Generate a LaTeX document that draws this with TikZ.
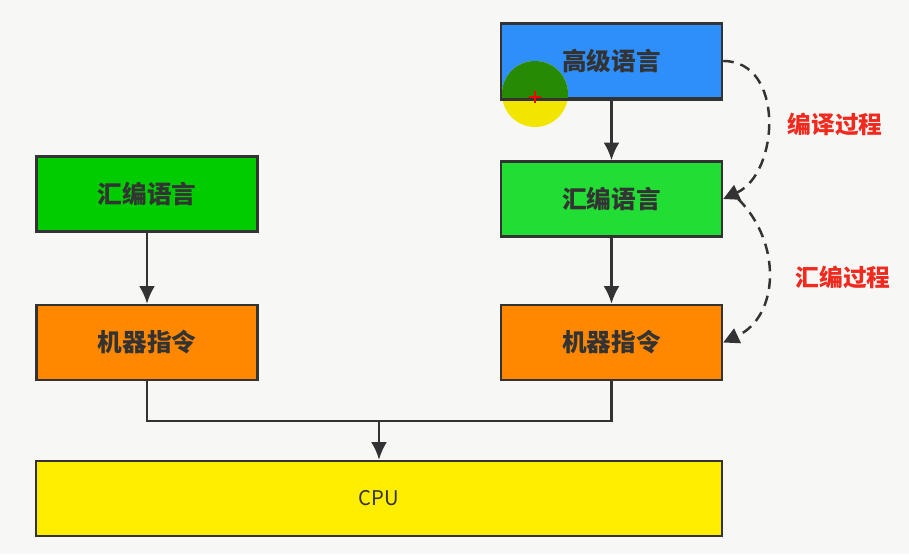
\documentclass[tikz,border=0pt]{standalone}
\usepackage{fontspec}
\newfontfamily\cjk{Noto Sans CJK SC}
\usetikzlibrary{arrows.meta}
\definecolor{bgc}{HTML}{F7F8F6}
\definecolor{edge}{HTML}{333333}
\definecolor{hlblue}{HTML}{2E8FFB}
\definecolor{asmgreen}{HTML}{00CC00}
\definecolor{asmgreenb}{HTML}{22DD33}
\definecolor{machorange}{HTML}{FF8800}
\definecolor{cpuyellow}{HTML}{FFEE00}
\definecolor{procred}{HTML}{F02A1E}
\definecolor{curgreen}{HTML}{268A04}
\definecolor{curyellow}{HTML}{F2E600}

\begin{document}
\begin{tikzpicture}[
    box/.style={draw=edge, line width=1.4pt, minimum width=4.42cm, minimum height=1.5cm,
        font=\cjk\fontsize{14}{16}\selectfont\bfseries, text=edge, inner sep=0pt},
    flow/.style={draw=edge, line width=1.4pt, -{Latex[length=10pt,width=9pt]}},
    proc/.style={draw=edge, line width=1.4pt, dash pattern=on 6pt off 4pt,
        -{Triangle[length=9pt,width=9pt]}},
    plabel/.style={text=procred, font=\cjk\fontsize{13.5}{15}\selectfont\bfseries}
]

    \fill[bgc] (0,0) rectangle (18.18,11.08);

    % right column
    \node[box, fill=hlblue] (hll) at (12.23,9.86) {高级语言};
    \node[box, fill=asmgreenb] (rasm) at (12.23,7.10) {汇编语言};
    \node[box, fill=machorange] (rmach) at (12.23,4.23) {机器指令};

    % left column
    \node[box, fill=asmgreen] (lasm) at (2.94,7.20) {汇编语言};
    \node[box, fill=machorange] (lmach) at (2.94,4.23) {机器指令};

    \node[box, fill=cpuyellow, minimum width=13.72cm, font=\cjk\fontsize{11.5}{13}\selectfont] (cpu) at (7.58,1.11) {CPU};

    % cursor mark
    \fill[curyellow] (10.70,9.20) circle (0.66);
    \begin{scope}
        \clip (hll.south west) rectangle (hll.north east);
        \fill[curgreen] (10.70,9.20) circle (0.66);
    \end{scope}
    \draw[edge, line width=1.4pt] (hll.south west) -- (hll.south east);
    \draw[red, line width=0.9pt] (10.58,9.14) -- (10.82,9.14) (10.70,9.02) -- (10.70,9.26);

    \draw[flow] (hll) -- (rasm);
    \draw[flow] (rasm) -- (rmach);
    \draw[flow] (lasm) -- (lmach);

    \coordinate (join) at (7.58,2.66);
    \draw[draw=edge, line width=1.4pt] (lmach.south) |- (join) -| (rmach.south);
    \draw[flow] (join) -- (cpu.north);

    \draw[proc] (hll.east) to[out=0, in=25, looseness=1.15] (rasm.east);
    \draw[proc] ([xshift=0.3cm]rasm.east) to[out=-45, in=25, looseness=1.1] (rmach.east);

    \node[plabel] (compile) at (16.70,8.60) {编译过程};
    \node[plabel] (assemble) at (16.86,5.54) {汇编过程};

\end{tikzpicture}
\end{document}
